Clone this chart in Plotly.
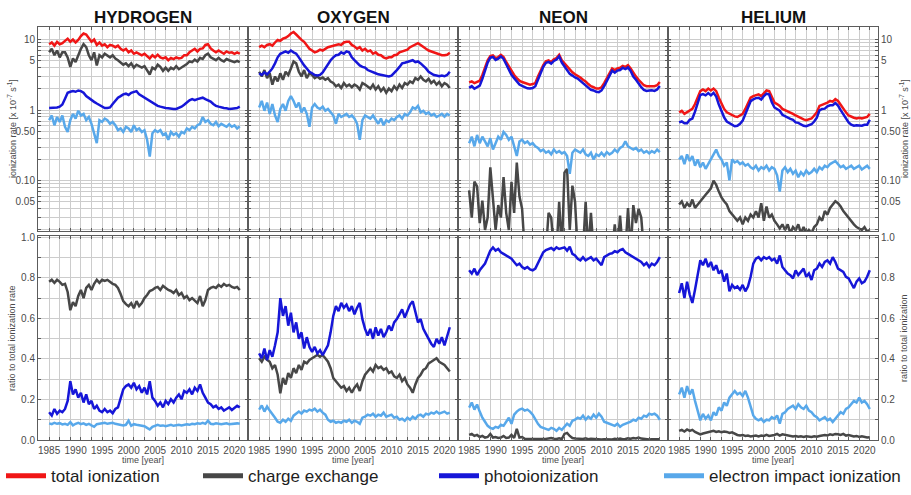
import plotly.graph_objects as go

W, H = 911, 495
FONT = "Liberation Sans, Arial, sans-serif"

# time grid: half-year steps 1985.0 ... 2021.0
YEARS = [1985 + 0.5 * i for i in range(73)]

# ---------------- ionization rates [x 10^-7 s^-1] ----------------
H_TOTAL = [8.6, 9.1, 8.2, 9.3, 8.6, 8.9, 9.6, 10.3, 9.3, 10.0,
           9.1, 9.9, 11.2, 12.2, 11.8, 10.3, 9.3, 10.0, 8.4, 9.1,
           8.2, 8.6, 7.8, 8.4, 8.2, 7.8, 8.2, 7.4, 7.0, 7.4,
           6.6, 7.0, 6.3, 6.6, 6.3, 6.0, 6.3, 5.8, 5.4, 6.0,
           5.6, 6.1, 5.6, 5.4, 5.6, 5.1, 5.5, 5.3, 5.6, 5.4,
           5.5, 6.0, 6.0, 6.6, 7.0, 7.4, 6.8, 7.4, 7.5, 8.4,
           8.6, 7.5, 7.0, 6.6, 7.0, 6.6, 6.3, 6.8, 6.5, 6.6,
           6.3, 6.6, 6.3]
H_CX = [6.6, 7.4, 6.0, 7.0, 5.6, 6.6, 6.6, 5.6, 4.1, 5.4,
        4.8, 6.0, 7.4, 8.6, 7.8, 6.0, 5.1, 6.6, 4.3, 6.0,
        5.6, 6.3, 6.0, 5.6, 6.0, 5.4, 5.1, 4.8, 4.4, 4.6,
        4.2, 4.6, 4.0, 4.4, 4.2, 4.0, 4.2, 3.6, 3.2, 4.0,
        3.8, 4.4, 4.1, 3.6, 4.0, 3.6, 4.0, 3.8, 4.2, 3.8,
        4.0, 4.3, 4.5, 4.9, 4.8, 5.2, 4.9, 5.5, 5.3, 6.0,
        6.3, 5.6, 5.4, 5.1, 5.5, 5.1, 4.9, 5.3, 5.1, 4.9,
        4.8, 5.0, 4.8]
H_PI = [1.07, 1.07, 1.09, 1.09, 1.12, 1.20, 1.45, 1.76, 1.82, 1.86,
        1.82, 1.90, 1.86, 1.76, 1.58, 1.47, 1.38, 1.31, 1.24, 1.19,
        1.12, 1.07, 1.07, 1.09, 1.22, 1.35, 1.50, 1.58, 1.67, 1.71,
        1.64, 1.76, 1.82, 1.86, 1.67, 1.58, 1.50, 1.43, 1.35, 1.28,
        1.22, 1.15, 1.12, 1.09, 1.07, 1.06, 1.04, 1.04, 1.04, 1.07,
        1.12, 1.19, 1.28, 1.38, 1.43, 1.38, 1.43, 1.47, 1.50, 1.43,
        1.38, 1.32, 1.22, 1.15, 1.12, 1.09, 1.07, 1.06, 1.04, 1.05,
        1.05, 1.07, 1.12]
H_EI = [0.72, 0.84, 0.61, 0.80, 0.68, 0.84, 0.58, 0.49, 0.72, 0.885,
        0.76, 0.98, 0.84, 0.885, 0.72, 0.80, 0.64, 0.47, 0.34, 0.72,
        0.68, 0.76, 0.72, 0.64, 0.68, 0.61, 0.52, 0.55, 0.49, 0.58,
        0.55, 0.49, 0.61, 0.52, 0.55, 0.49, 0.52, 0.38, 0.22, 0.47,
        0.52, 0.49, 0.52, 0.445, 0.47, 0.38, 0.49, 0.445, 0.47, 0.42,
        0.49, 0.47, 0.55, 0.52, 0.58, 0.55, 0.61, 0.64, 0.80, 0.68,
        0.72, 0.64, 0.61, 0.68, 0.59, 0.64, 0.61, 0.58, 0.63, 0.58,
        0.61, 0.55, 0.59]

O_TOTAL = [7.8, 8.2, 7.8, 8.4, 8.6, 8.2, 9.1, 9.9, 9.6, 10.3,
           10.6, 11.2, 12.2, 12.8, 11.8, 10.6, 9.9, 9.3, 8.2, 7.4,
           7.0, 6.6, 6.8, 7.2, 7.0, 7.4, 7.8, 8.0, 8.2, 8.6,
           8.6, 8.4, 9.1, 9.3, 9.3, 8.4, 8.0, 7.4, 7.8, 7.0,
           7.4, 6.8, 7.0, 6.3, 6.6, 6.1, 6.0, 5.6, 5.4, 5.6,
           5.6, 6.0, 6.1, 6.6, 6.8, 7.0, 7.2, 7.8, 8.2, 8.4,
           8.9, 8.4, 7.8, 7.4, 7.0, 6.8, 6.6, 6.3, 6.1, 6.0,
           6.0, 6.1, 6.5]
O_CX = [3.5, 3.0, 3.7, 2.84, 3.33, 2.30, 3.0, 2.55, 3.33, 2.69,
        3.5, 3.15, 3.9, 4.9, 4.6, 3.5, 3.0, 3.7, 2.84, 3.33,
        3.15, 2.84, 3.0, 2.78, 2.9, 2.69, 2.84, 2.55, 2.42, 2.18,
        2.30, 2.06, 2.42, 2.18, 2.30, 2.11, 2.30, 2.18, 1.96, 2.42,
        2.30, 2.18, 2.02, 2.30, 1.96, 2.18, 1.86, 2.06, 1.76, 2.02,
        1.86, 2.18, 1.96, 2.30, 2.06, 2.42, 2.30, 2.55, 2.42, 2.84,
        2.69, 3.0, 2.69, 2.55, 2.78, 2.42, 2.60, 2.30, 2.50, 2.18,
        2.42, 2.30, 2.06]
O_PI = [3.33, 3.15, 3.43, 3.22, 3.5, 3.9, 4.6, 5.6, 6.3, 6.6,
        6.8, 6.5, 7.0, 6.6, 6.3, 5.6, 4.8, 4.3, 3.9, 3.5,
        3.33, 3.15, 3.09, 3.15, 3.43, 3.9, 4.6, 5.1, 5.6, 6.0,
        6.1, 6.6, 6.3, 6.8, 6.6, 5.6, 5.1, 4.6, 4.3, 4.1,
        4.0, 3.7, 3.6, 3.43, 3.33, 3.22, 3.15, 3.09, 3.0, 3.0,
        3.09, 3.33, 3.7, 4.1, 4.6, 4.7, 4.8, 4.9, 5.1, 4.8,
        4.9, 4.6, 4.25, 3.9, 3.5, 3.33, 3.15, 3.09, 3.02, 3.09,
        3.02, 3.15, 3.5]
O_EI = [1.09, 1.35, 0.98, 1.28, 0.885, 1.22, 0.84, 0.68, 1.04, 1.22,
        0.98, 1.35, 1.58, 1.35, 1.09, 1.28, 0.93, 1.09, 0.885, 0.58,
        1.09, 1.22, 1.09, 1.04, 1.12, 0.98, 1.04, 0.93, 0.84, 0.64,
        0.885, 0.80, 0.84, 0.885, 0.80, 0.84, 0.76, 0.64, 0.38, 0.72,
        0.84, 0.80, 0.76, 0.84, 0.72, 0.64, 0.76, 0.61, 0.72, 0.68,
        0.76, 0.72, 0.80, 0.84, 0.76, 0.885, 0.84, 0.93, 1.09, 1.04,
        1.15, 0.93, 0.98, 0.885, 0.93, 0.84, 0.885, 0.80, 0.84, 0.885,
        0.81, 0.885, 0.84]

NE_TOTAL = [2.47, 2.55, 2.42, 2.50, 2.61, 3.15, 4.11, 5.08, 5.83, 5.97,
            5.47, 5.65, 6.08, 5.65, 4.81, 4.11, 3.51, 3.15, 2.84, 2.61,
            2.50, 2.42, 2.34, 2.30, 2.34, 2.42, 2.99, 3.70, 4.33, 4.92,
            5.08, 4.81, 5.24, 5.47, 6.08, 5.08, 4.57, 4.11, 3.70, 3.43,
            3.22, 3.09, 2.90, 2.69, 2.55, 2.34, 2.18, 2.11, 2.02, 2.02,
            2.11, 2.42, 2.84, 3.33, 3.90, 3.70, 3.90, 3.98, 4.24, 4.11,
            4.33, 3.90, 3.33, 2.99, 2.69, 2.42, 2.25, 2.18, 2.18, 2.22,
            2.18, 2.25, 2.50]
NE_CX = [0.073, 0.03, 0.097, 0.083, 0.025, 0.052, 0.02, 0.03, 0.155, 0.056,
         0.02, 0.045, 0.03, 0.112, 0.035, 0.02, 0.096, 0.035, 0.18, 0.06,
         0.04, 0.01, 0.01, 0.01, 0.01, 0.01, 0.01, 0.01, 0.01, 0.01,
         0.035, 0.03, 0.01, 0.01, 0.05, 0.01, 0.13, 0.147, 0.02, 0.085,
         0.05, 0.01, 0.01, 0.01, 0.05, 0.01, 0.035, 0.01, 0.01, 0.01,
         0.01, 0.01, 0.01, 0.01, 0.01, 0.024, 0.01, 0.032, 0.01, 0.01,
         0.041, 0.01, 0.045, 0.025, 0.04, 0.03, 0.01, 0.01, 0.01, 0.01,
         0.015, 0.01, 0.01]
NE_PI = [2.07, 2.19, 2.01, 2.13, 2.22, 2.77, 3.70, 4.72, 5.54, 5.67,
         5.14, 5.37, 5.78, 5.31, 4.47, 3.78, 3.16, 2.84, 2.53, 2.30,
         2.20, 2.11, 2.04, 2.02, 2.06, 2.18, 2.75, 3.48, 4.11, 4.67,
         4.83, 4.57, 4.98, 5.20, 5.78, 4.72, 4.11, 3.70, 3.26, 3.09,
         2.90, 2.81, 2.61, 2.42, 2.30, 2.11, 1.94, 1.90, 1.82, 1.80,
         1.90, 2.18, 2.58, 3.06, 3.63, 3.40, 3.63, 3.70, 3.99, 3.82,
         4.03, 3.59, 3.00, 2.69, 2.37, 2.11, 1.94, 1.87, 1.90, 1.91,
         1.87, 1.96, 2.20]
NE_EI = [0.34, 0.42, 0.307, 0.445, 0.34, 0.42, 0.36, 0.307, 0.40, 0.276,
         0.34, 0.42, 0.38, 0.49, 0.445, 0.38, 0.42, 0.307, 0.224, 0.36,
         0.38, 0.34, 0.36, 0.324, 0.34, 0.307, 0.291, 0.262, 0.276, 0.249,
         0.262, 0.236, 0.276, 0.249, 0.262, 0.243, 0.254, 0.224, 0.125, 0.249,
         0.276, 0.262, 0.249, 0.276, 0.236, 0.224, 0.249, 0.20, 0.236, 0.224,
         0.249, 0.224, 0.254, 0.236, 0.249, 0.276, 0.254, 0.291, 0.307, 0.36,
         0.307, 0.291, 0.276, 0.291, 0.262, 0.276, 0.249, 0.262, 0.243, 0.262,
         0.249, 0.276, 0.254]

HE_TOTAL = [0.93, 0.98, 0.885, 0.93, 0.98, 1.04, 1.22, 1.50, 1.86, 1.96,
            1.86, 2.02, 1.90, 2.02, 1.86, 1.50, 1.22, 1.04, 0.93, 0.885,
            0.84, 0.814, 0.80, 0.84, 0.885, 1.04, 1.28, 1.50, 1.58, 1.64,
            1.67, 1.58, 1.76, 1.90, 1.86, 1.50, 1.28, 1.22, 1.15, 1.04,
            1.005, 0.96, 0.93, 0.885, 0.84, 0.80, 0.76, 0.74, 0.72, 0.74,
            0.76, 0.84, 0.93, 1.15, 1.19, 1.22, 1.28, 1.35, 1.32, 1.43,
            1.35, 1.19, 1.04, 0.93, 0.84, 0.80, 0.78, 0.76, 0.78, 0.76,
            0.78, 0.80, 0.885]
HE_CX = [0.046, 0.051, 0.041, 0.048, 0.043, 0.054, 0.041, 0.046, 0.051, 0.058,
         0.063, 0.070, 0.078, 0.10, 0.087, 0.070, 0.058, 0.051, 0.046, 0.037,
         0.033, 0.030, 0.027, 0.030, 0.024, 0.030, 0.027, 0.033, 0.030, 0.037,
         0.030, 0.048, 0.027, 0.043, 0.030, 0.033, 0.027, 0.024, 0.021, 0.024,
         0.020, 0.024, 0.018, 0.022, 0.020, 0.024, 0.018, 0.022, 0.018, 0.020,
         0.018, 0.022, 0.024, 0.030, 0.027, 0.037, 0.033, 0.041, 0.046, 0.051,
         0.048, 0.043, 0.037, 0.033, 0.030, 0.027, 0.024, 0.022, 0.021, 0.020,
         0.022, 0.019, 0.020]
HE_PI = [0.67, 0.69, 0.65, 0.65, 0.73, 0.76, 0.95, 1.28, 1.64, 1.69,
         1.62, 1.74, 1.62, 1.76, 1.56, 1.20, 0.95, 0.79, 0.69, 0.66,
         0.62, 0.59, 0.60, 0.64, 0.71, 0.88, 1.13, 1.34, 1.42, 1.48,
         1.50, 1.41, 1.58, 1.71, 1.66, 1.29, 1.09, 1.02, 0.98, 0.86,
         0.82, 0.77, 0.75, 0.73, 0.67, 0.66, 0.63, 0.60, 0.59, 0.61,
         0.63, 0.69, 0.78, 0.99, 1.04, 1.05, 1.13, 1.17, 1.17, 1.26,
         1.16, 1.00, 0.87, 0.76, 0.67, 0.62, 0.60, 0.61, 0.61, 0.60,
         0.62, 0.62, 0.73]
HE_EI = [0.20, 0.224, 0.172, 0.236, 0.19, 0.224, 0.163, 0.20, 0.155, 0.181,
         0.147, 0.172, 0.20, 0.236, 0.276, 0.224, 0.20, 0.163, 0.181, 0.101,
         0.20, 0.181, 0.19, 0.172, 0.181, 0.163, 0.172, 0.155, 0.147, 0.163,
         0.139, 0.155, 0.147, 0.163, 0.139, 0.155, 0.147, 0.119, 0.070, 0.139,
         0.155, 0.132, 0.147, 0.125, 0.139, 0.112, 0.132, 0.119, 0.139, 0.125,
         0.132, 0.147, 0.132, 0.155, 0.144, 0.163, 0.155, 0.172, 0.181, 0.19,
         0.172, 0.155, 0.163, 0.147, 0.155, 0.163, 0.147, 0.155, 0.163, 0.144,
         0.155, 0.163, 0.147]

# ---------------- ratios to the total ionization rate ----------------
H_CX_RATIO = [0.78, 0.79, 0.775, 0.79, 0.78, 0.765, 0.77, 0.73, 0.64, 0.68,
              0.66, 0.71, 0.74, 0.70, 0.75, 0.765, 0.74, 0.77, 0.79, 0.775,
              0.79, 0.785, 0.79, 0.78, 0.77, 0.765, 0.75, 0.72, 0.685, 0.67,
              0.66, 0.675, 0.65, 0.685, 0.66, 0.675, 0.70, 0.715, 0.735, 0.74,
              0.75, 0.755, 0.74, 0.76, 0.75, 0.74, 0.735, 0.725, 0.74, 0.715,
              0.725, 0.70, 0.71, 0.69, 0.70, 0.685, 0.675, 0.71, 0.66, 0.69,
              0.74, 0.75, 0.755, 0.75, 0.765, 0.755, 0.77, 0.76, 0.765, 0.755,
              0.75, 0.755, 0.74]
H_PI_RATIO = [0.137, 0.121, 0.153, 0.129, 0.145, 0.137, 0.153, 0.193, 0.29, 0.225,
              0.25, 0.209, 0.233, 0.185, 0.225, 0.177, 0.193, 0.153, 0.169, 0.145,
              0.137, 0.153, 0.137, 0.145, 0.132, 0.153, 0.161, 0.209, 0.25, 0.266,
              0.274, 0.258, 0.282, 0.25, 0.266, 0.233, 0.258, 0.225, 0.29, 0.209,
              0.193, 0.169, 0.185, 0.161, 0.193, 0.177, 0.201, 0.185, 0.209, 0.225,
              0.201, 0.242, 0.233, 0.25, 0.225, 0.258, 0.242, 0.274, 0.233, 0.209,
              0.185, 0.177, 0.161, 0.169, 0.153, 0.161, 0.145, 0.153, 0.161, 0.148,
              0.161, 0.169, 0.161]
H_EI_RATIO = [0.082, 0.078, 0.085, 0.08, 0.083, 0.077, 0.08, 0.075, 0.088, 0.072,
              0.08, 0.085, 0.078, 0.082, 0.075, 0.08, 0.072, 0.065, 0.078, 0.08,
              0.082, 0.085, 0.08, 0.083, 0.085, 0.08, 0.078, 0.075, 0.072, 0.075,
              0.095, 0.07, 0.078, 0.075, 0.072, 0.07, 0.068, 0.06, 0.052, 0.065,
              0.072, 0.075, 0.07, 0.072, 0.068, 0.072, 0.075, 0.07, 0.072, 0.075,
              0.072, 0.075, 0.078, 0.075, 0.08, 0.078, 0.082, 0.08, 0.085, 0.08,
              0.095, 0.08, 0.078, 0.082, 0.08, 0.078, 0.08, 0.082, 0.078, 0.08,
              0.08, 0.082, 0.08]

O_CX_RATIO = [0.403, 0.386, 0.411, 0.395, 0.386, 0.354, 0.370, 0.322, 0.23, 0.306,
              0.274, 0.330, 0.306, 0.354, 0.330, 0.370, 0.346, 0.386, 0.378, 0.395,
              0.403, 0.411, 0.419, 0.411, 0.419, 0.403, 0.386, 0.354, 0.306, 0.29,
              0.274, 0.258, 0.266, 0.242, 0.258, 0.233, 0.258, 0.274, 0.242, 0.29,
              0.322, 0.338, 0.354, 0.338, 0.370, 0.354, 0.362, 0.346, 0.354, 0.330,
              0.338, 0.314, 0.306, 0.322, 0.29, 0.306, 0.274, 0.258, 0.233, 0.274,
              0.306, 0.322, 0.346, 0.354, 0.378, 0.386, 0.395, 0.403, 0.386, 0.378,
              0.370, 0.354, 0.338]
O_PI_RATIO = [0.427, 0.403, 0.451, 0.395, 0.443, 0.411, 0.467, 0.531, 0.70, 0.612,
              0.66, 0.564, 0.628, 0.531, 0.58, 0.499, 0.531, 0.451, 0.507, 0.459,
              0.435, 0.459, 0.427, 0.443, 0.419, 0.443, 0.467, 0.531, 0.612, 0.66,
              0.636, 0.676, 0.652, 0.668, 0.636, 0.66, 0.62, 0.652, 0.676, 0.596,
              0.548, 0.515, 0.548, 0.499, 0.556, 0.515, 0.548, 0.507, 0.531, 0.564,
              0.539, 0.58, 0.596, 0.62, 0.644, 0.604, 0.636, 0.668, 0.684, 0.628,
              0.58, 0.596, 0.548, 0.523, 0.499, 0.475, 0.459, 0.499, 0.475, 0.507,
              0.467, 0.507, 0.556]
O_EI_RATIO = [0.15, 0.17, 0.14, 0.165, 0.145, 0.13, 0.11, 0.09, 0.085, 0.10,
              0.09, 0.105, 0.095, 0.12, 0.13, 0.14, 0.13, 0.145, 0.14, 0.15,
              0.145, 0.155, 0.14, 0.15, 0.135, 0.125, 0.10, 0.09, 0.095, 0.085,
              0.09, 0.085, 0.095, 0.09, 0.10, 0.085, 0.095, 0.09, 0.08, 0.11,
              0.115, 0.125, 0.12, 0.13, 0.115, 0.125, 0.12, 0.135, 0.115, 0.12,
              0.125, 0.11, 0.115, 0.10, 0.105, 0.095, 0.11, 0.10, 0.115, 0.105,
              0.12, 0.125, 0.115, 0.13, 0.125, 0.135, 0.13, 0.14, 0.13, 0.135,
              0.14, 0.13, 0.135]

NE_CX_RATIO = [0.025, 0.03, 0.02, 0.025, 0.015, 0.02, 0.012, 0.015, 0.03, 0.012,
               0.015, 0.01, 0.012, 0.02, 0.01, 0.012, 0.025, 0.01, 0.055, 0.012,
               0.015, 0.006, 0.005, 0.005, 0.004, 0.005, 0.004, 0.005, 0.004, 0.005,
               0.008, 0.01, 0.006, 0.005, 0.008, 0.005, 0.03, 0.035, 0.02, 0.01,
               0.008, 0.006, 0.004, 0.005, 0.008, 0.004, 0.006, 0.005, 0.003, 0.004,
               0.003, 0.004, 0.003, 0.005, 0.003, 0.006, 0.004, 0.007, 0.004, 0.005,
               0.008, 0.006, 0.01, 0.008, 0.012, 0.007, 0.005, 0.004, 0.003, 0.004,
               0.005, 0.003, 0.004]
NE_PI_RATIO = [0.837, 0.821, 0.845, 0.813, 0.837, 0.853, 0.870, 0.902, 0.934, 0.95,
               0.934, 0.942, 0.926, 0.918, 0.910, 0.902, 0.894, 0.878, 0.862, 0.870,
               0.853, 0.845, 0.853, 0.841, 0.837, 0.845, 0.870, 0.902, 0.926, 0.937,
               0.942, 0.947, 0.937, 0.95, 0.942, 0.947, 0.95, 0.934, 0.953, 0.918,
               0.910, 0.894, 0.886, 0.902, 0.886, 0.894, 0.902, 0.886, 0.894, 0.878,
               0.862, 0.902, 0.910, 0.918, 0.921, 0.931, 0.926, 0.937, 0.942, 0.926,
               0.918, 0.910, 0.902, 0.894, 0.889, 0.878, 0.862, 0.873, 0.853, 0.870,
               0.862, 0.878, 0.902]
NE_EI_RATIO = [0.16, 0.185, 0.15, 0.175, 0.14, 0.11, 0.09, 0.07, 0.06, 0.055,
               0.065, 0.06, 0.075, 0.07, 0.09, 0.11, 0.08, 0.125, 0.14, 0.15,
               0.155, 0.145, 0.15, 0.14, 0.125, 0.10, 0.08, 0.065, 0.06, 0.055,
               0.05, 0.06, 0.055, 0.045, 0.06, 0.05, 0.065, 0.08, 0.07, 0.095,
               0.10, 0.11, 0.105, 0.12, 0.10, 0.115, 0.105, 0.125, 0.11, 0.13,
               0.115, 0.09, 0.085, 0.08, 0.075, 0.07, 0.08, 0.065, 0.075, 0.08,
               0.085, 0.09, 0.10, 0.095, 0.11, 0.105, 0.12, 0.115, 0.13, 0.125,
               0.13, 0.12, 0.10]

HE_CX_RATIO = [0.045, 0.05, 0.042, 0.052, 0.045, 0.05, 0.04, 0.035, 0.028, 0.032,
               0.035, 0.04, 0.042, 0.045, 0.04, 0.043, 0.038, 0.042, 0.04, 0.035,
               0.038, 0.03, 0.025, 0.022, 0.025, 0.02, 0.022, 0.018, 0.02, 0.022,
               0.018, 0.022, 0.02, 0.025, 0.02, 0.022, 0.025, 0.03, 0.022, 0.028,
               0.025, 0.022, 0.02, 0.018, 0.02, 0.016, 0.018, 0.015, 0.018, 0.016,
               0.015, 0.018, 0.016, 0.02, 0.022, 0.025, 0.022, 0.028, 0.025, 0.03,
               0.028, 0.025, 0.03, 0.022, 0.025, 0.02, 0.018, 0.02, 0.015, 0.018,
               0.015, 0.012, 0.014]
HE_PI_RATIO = [0.725, 0.773, 0.70, 0.781, 0.717, 0.676, 0.741, 0.805, 0.886, 0.862,
               0.894, 0.853, 0.878, 0.837, 0.862, 0.821, 0.837, 0.781, 0.821, 0.733,
               0.765, 0.749, 0.757, 0.741, 0.765, 0.733, 0.757, 0.805, 0.870, 0.894,
               0.902, 0.886, 0.902, 0.894, 0.902, 0.886, 0.894, 0.870, 0.910, 0.853,
               0.837, 0.821, 0.813, 0.797, 0.837, 0.813, 0.829, 0.845, 0.805, 0.821,
               0.789, 0.837, 0.845, 0.870, 0.853, 0.878, 0.886, 0.870, 0.902, 0.878,
               0.845, 0.837, 0.829, 0.805, 0.797, 0.773, 0.749, 0.781, 0.797, 0.773,
               0.781, 0.805, 0.837]
HE_EI_RATIO = [0.225, 0.258, 0.209, 0.266, 0.225, 0.25, 0.193, 0.145, 0.097, 0.129,
               0.105, 0.121, 0.097, 0.137, 0.121, 0.161, 0.145, 0.185, 0.169, 0.209,
               0.225, 0.242, 0.225, 0.233, 0.217, 0.242, 0.209, 0.161, 0.121, 0.105,
               0.097, 0.105, 0.089, 0.10, 0.097, 0.113, 0.105, 0.121, 0.081, 0.129,
               0.137, 0.153, 0.161, 0.169, 0.153, 0.177, 0.161, 0.153, 0.169, 0.145,
               0.137, 0.121, 0.113, 0.097, 0.105, 0.113, 0.097, 0.105, 0.089, 0.105,
               0.121, 0.137, 0.129, 0.153, 0.161, 0.177, 0.193, 0.185, 0.209, 0.185,
               0.193, 0.177, 0.153]

# ---------------- labels ----------------
ELEMENTS = ["HYDROGEN", "OXYGEN", "NEON", "HELIUM"]
SERIES_NAMES = ["total ionization", "charge exchange", "photoionization",
                "electron impact ionization"]
YEAR_TICKS = [1985, 1990, 1995, 2000, 2005, 2010, 2015, 2020]
RATE_TICK_VALUES = [0.05, 0.1, 0.5, 1, 5, 10]
RATE_TICK_LABELS = ["0.05", "0.10", "0.50", "1", "5", "10"]
RATIO_TICK_VALUES = [0.0, 0.2, 0.4, 0.6, 0.8, 1.0]
RATIO_TICK_LABELS = ["0.0", "0.2", "0.4", "0.6", "0.8", "1.0"]

RATES = [(H_TOTAL, H_CX, H_PI, H_EI), (O_TOTAL, O_CX, O_PI, O_EI),
         (NE_TOTAL, NE_CX, NE_PI, NE_EI), (HE_TOTAL, HE_CX, HE_PI, HE_EI)]
RATIOS = [(H_CX_RATIO, H_PI_RATIO, H_EI_RATIO), (O_CX_RATIO, O_PI_RATIO, O_EI_RATIO),
          (NE_CX_RATIO, NE_PI_RATIO, NE_EI_RATIO), (HE_CX_RATIO, HE_PI_RATIO, HE_EI_RATIO)]

# ---------------- styling ----------------
COLORS = ["#f01616", "#474747", "#1616d8", "#58a8ea"]   # total, CX, PI, EI
FRAME = "#5c5c5c"
GRID = "#cccccc"
TICKFONT = dict(family=FONT, size=10, color="#4a4a4a")
LW = 2.5

PANEL_X = [(38, 248), (248, 458), (458, 668), (668, 878)]   # pixels
TOP_Y = (23, 232)
BOT_Y = (237, 445)
X_RANGE = [1982.9, 2022.55]
LOG_RANGE = [-1.718, 1.185]
RATIO_RANGE = [0, 1.005]

odd_years = list(range(1985, 2022, 2))
log_grid = [round(m * 10 ** e, 4) for e in (-2, -1, 0, 1) for m in range(1, 10)
            if 0.019 < m * 10 ** e < 15.5]
log_text = [RATE_TICK_LABELS[RATE_TICK_VALUES.index(v)]
            if v in RATE_TICK_VALUES else "" for v in log_grid]
ratio_grid = [round(0.1 * i, 1) for i in range(11)]
ratio_text = [RATIO_TICK_LABELS[RATIO_TICK_VALUES.index(v)]
              if v in RATIO_TICK_VALUES else "" for v in ratio_grid]


def ax_id(i, letter):
    return letter if i == 1 else f"{letter}{i}"


def ax_key(i, letter):
    return f"{letter}axis" if i == 1 else f"{letter}axis{i}"


def ydom(rng):
    return [1 - rng[1] / H, 1 - rng[0] / H]


fig = go.Figure()
layout = {}
frame = dict(showline=True, linecolor=FRAME, linewidth=1, mirror="ticks",
             ticks="inside", ticklen=3, tickcolor=FRAME, tickwidth=1,
             showgrid=True, gridcolor=GRID, gridwidth=1, zeroline=False,
             tickfont=TICKFONT)

for k in range(4):
    top, bot, lab = k + 1, k + 5, k + 9
    xdom = [PANEL_X[k][0] / W, PANEL_X[k][1] / W]

    for series, color in zip(RATES[k], COLORS):
        fig.add_trace(go.Scatter(x=YEARS, y=series, mode="lines",
                                 line=dict(color=color, width=LW),
                                 xaxis=ax_id(top, "x"), yaxis=ax_id(top, "y"),
                                 showlegend=False, hoverinfo="skip"))
    for series, color in zip(RATIOS[k], COLORS[1:]):
        fig.add_trace(go.Scatter(x=YEARS, y=series, mode="lines",
                                 line=dict(color=color, width=LW),
                                 xaxis=ax_id(bot, "x"), yaxis=ax_id(bot, "y"),
                                 showlegend=False, hoverinfo="skip"))
    # carrier for the year labels under each lower panel
    fig.add_trace(go.Scatter(x=[None], y=[None], xaxis=ax_id(lab, "x"),
                             yaxis=ax_id(bot, "y"), showlegend=False,
                             hoverinfo="skip"))

    for i, yd in ((top, TOP_Y), (bot, BOT_Y)):
        layout[ax_key(i, "x")] = dict(frame, domain=xdom, range=X_RANGE,
                                      anchor=ax_id(i, "y"), tickmode="array",
                                      tickvals=odd_years, showticklabels=False)
    layout[ax_key(lab, "x")] = dict(overlaying=ax_id(bot, "x"), anchor=ax_id(bot, "y"),
                                    range=X_RANGE, tickmode="array",
                                    tickvals=YEAR_TICKS,
                                    ticktext=[str(y) for y in YEAR_TICKS],
                                    showgrid=False, showline=False, zeroline=False,
                                    ticks="", tickfont=TICKFONT, side="bottom",
                                    ticklabelstandoff=3)

    side = "right" if k == 3 else "left"
    show_y = k in (0, 3)
    layout[ax_key(top, "y")] = dict(frame, domain=ydom(TOP_Y), anchor=ax_id(top, "x"),
                                    type="log", range=LOG_RANGE, tickmode="array",
                                    tickvals=log_grid, ticktext=log_text,
                                    showticklabels=show_y, side=side)
    layout[ax_key(bot, "y")] = dict(frame, domain=ydom(BOT_Y), anchor=ax_id(bot, "x"),
                                    range=RATIO_RANGE, tickmode="array",
                                    tickvals=ratio_grid, ticktext=ratio_text,
                                    showticklabels=show_y, side=side)

# legend entries: one legend per series so each sits at its own place
LEGEND_X = [1, 198, 434, 659]
for j, (name, color) in enumerate(zip(SERIES_NAMES, COLORS)):
    lg = "legend" if j == 0 else f"legend{j + 1}"
    fig.add_trace(go.Scatter(x=[None], y=[None], mode="lines", name=name,
                             line=dict(color=color, width=5), legend=lg,
                             xaxis="x", yaxis="y", hoverinfo="skip"))
    layout[lg] = dict(x=LEGEND_X[j] / W, y=1 - 482 / H, xanchor="left",
                      yanchor="middle", orientation="h",
                      font=dict(family=FONT, size=17, color="#1e1e1e"),
                      bgcolor="rgba(0,0,0,0)", itemwidth=40)

annotations = []
for k, el in enumerate(ELEMENTS):
    cx = (PANEL_X[k][0] + PANEL_X[k][1]) / 2 / W
    annotations.append(dict(text=f"<b>{el}</b>", x=cx, y=1 - 14 / H, xref="paper",
                            yref="paper", showarrow=False, xanchor="center",
                            yanchor="middle",
                            font=dict(family=FONT, size=17, color="#111")))
    annotations.append(dict(text="time [year]", x=cx, y=1 - 465 / H, xref="paper",
                            yref="paper", showarrow=False, xanchor="center",
                            yanchor="middle",
                            font=dict(family=FONT, size=9, color="#4a4a4a")))

rate_title = "ionization rate [x 10<sup>-7</sup> s<sup>-1</sup>]"
for xp, yp, txt in ((12, sum(TOP_Y) / 2, rate_title),
                    (12, sum(BOT_Y) / 2, "ratio to total ionization rate"),
                    (904, sum(TOP_Y) / 2, rate_title),
                    (904, sum(BOT_Y) / 2, "ratio to total ionization")):
    annotations.append(dict(text=txt, x=xp / W, y=1 - yp / H, xref="paper",
                            yref="paper", showarrow=False, textangle=-90,
                            xanchor="center", yanchor="middle",
                            font=dict(family=FONT, size=9, color="#4a4a4a")))

fig.update_layout(width=W, height=H, margin=dict(l=0, r=0, t=0, b=0),
                  paper_bgcolor="white", plot_bgcolor="white",
                  font=dict(family=FONT), annotations=annotations, **layout)

fig.write_html("out.html")
